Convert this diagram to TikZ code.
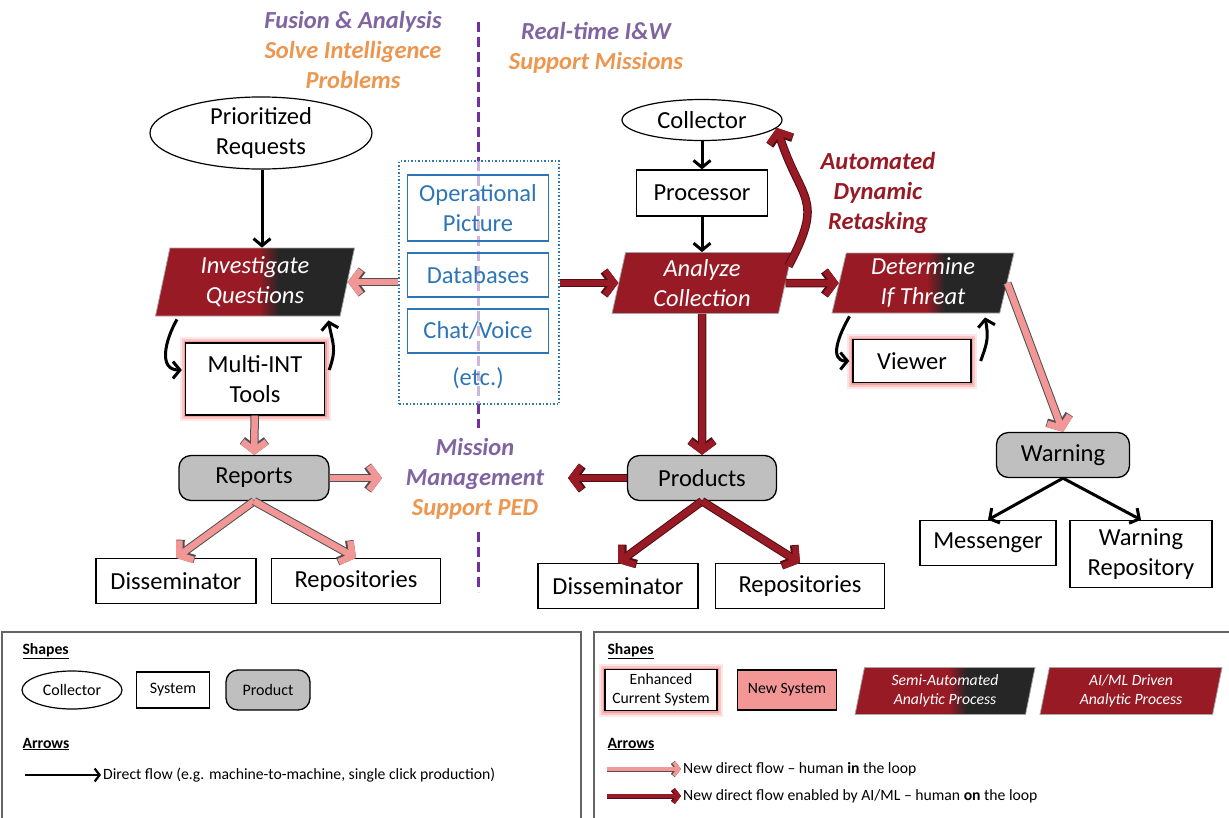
\documentclass[tikz,border=0pt]{standalone}
\usepackage{fontspec}
\setmainfont{Carlito}
\usetikzlibrary{shapes.geometric,arrows.meta,positioning}
\definecolor{aired}{RGB}{152,26,36}
\definecolor{aiedge}{RGB}{80,14,20}
\definecolor{semigray}{RGB}{38,38,38}
\definecolor{hpink}{RGB}{242,150,150}
\definecolor{edgegray}{RGB}{80,80,80}
\definecolor{prodgray}{RGB}{191,191,191}
\definecolor{infoblue}{RGB}{46,117,182}
\definecolor{tpurple}{RGB}{128,100,162}
\definecolor{torange}{RGB}{236,150,80}
\definecolor{linepurple}{RGB}{112,48,160}
\definecolor{glowpink}{RGB}{240,120,120}
\definecolor{framegray}{RGB}{100,100,100}
\pgfdeclarehorizontalshading{semiauto}{100bp}{color(0bp)=(aired); color(51bp)=(aired); color(56bp)=(semigray); color(100bp)=(semigray)}
\newcommand{\bigtxt}{\fontsize{24.5}{30}\selectfont}
\newcommand{\legtxt}{\fontsize{15.7}{19.5}\selectfont}
\newcommand{\legshape}{\fontsize{16}{20}\selectfont}

\begin{document}
\begin{tikzpicture}[x=1pt, y=1pt,
    sys_box/.style={draw, line width=1.3pt, fill=white, align=center, inner sep=0pt, font=\bigtxt},
    coll_node/.style={ellipse, draw, line width=1.2pt, fill=white, align=center, inner sep=0pt, font=\bigtxt},
    prod_box/.style={draw, line width=1.3pt, fill=prodgray, rounded corners=12pt, inner sep=0pt, font=\bigtxt},
    info_box/.style={draw=infoblue, line width=1.3pt, text=infoblue, align=center, inner sep=0pt, minimum width=141pt, font=\bigtxt},
    proc_shape/.style={trapezium, trapezium left angle=74, trapezium right angle=106, trapezium stretches body, draw=gray!70, line width=0.8pt, text=white, align=center, inner sep=0pt, font=\bigtxt\itshape},
    ai_proc/.style={proc_shape, fill=aired},
    semi_proc/.style={proc_shape, shade, shading=semiauto},
    glow_box/.style={preaction={draw=glowpink, line width=12pt, draw opacity=0.18}, preaction={draw=glowpink, line width=8pt, draw opacity=0.3}, preaction={draw=glowpink, line width=4pt, draw opacity=0.5}},
    black_flow/.style={line width=3pt, -{Straight Barb[length=7pt,width=17pt]}},
    human_flow/.style={draw=hpink, line width=6.5pt, -{Straight Barb[length=9pt,width=24pt]}, preaction={draw=edgegray, line width=8.5pt, -{Straight Barb[length=9pt,width=24pt]}}},
    ai_flow/.style={draw=aired, line width=6.5pt, -{Straight Barb[length=9pt,width=24pt]}, preaction={draw=aiedge, line width=8.5pt, -{Straight Barb[length=9pt,width=24pt]}}},
    sep_line/.style={draw=linepurple, line width=3pt, dash pattern=on 10pt off 5pt},
    title_text/.style={font=\bigtxt\bfseries\itshape, align=center}
]
\useasboundingbox (0,0) rectangle (1229,-817);
% Titres
\node[title_text] (fusion) at (353,-50) {\textcolor{tpurple}{Fusion \& Analysis}\\\textcolor{torange}{Solve Intelligence}\\\textcolor{torange}{Problems}};
\node[title_text] (realtime) at (596,-47.5) {\textcolor{tpurple}{Real-time I\&W}\\\textcolor{torange}{Support Missions}};
\node[title_text] (mission) at (475,-479) {\textcolor{tpurple}{Mission}\\\textcolor{tpurple}{Management}\\\textcolor{torange}{Support PED}};
\node[title_text, text=aired] (retask) at (878,-193) {Automated\\Dynamic\\Retasking};
% Separateur
\draw[sep_line] (478,-22) -- (478,-161);
\draw[sep_line, draw=linepurple!35] (478,-161) -- (478,-404);
\draw[sep_line] (478,-404) -- (478,-428);
\draw[sep_line] (478,-532) -- (478,-592);
% Sources communes
\node[draw=infoblue, line width=1.5pt, dash pattern=on 1.5pt off 2pt, minimum width=160pt, minimum height=243pt] (store) at (479,-282.5) {};
\node[info_box, minimum height=66pt] (oppic) at (478,-208) {Operational\\Picture};
\node[info_box, minimum height=44pt] (db) at (478,-275) {Databases};
\node[info_box, minimum height=44pt] (chat) at (478,-331) {Chat/Voice};
\node[font=\bigtxt, text=infoblue] (etc) at (478,-378) {(etc.)};
% Partie gauche : fusion
\node[coll_node, minimum width=222pt, minimum height=60pt] (req) at (261,-133) {Prioritized\\Requests};
\node[semi_proc, minimum width=199pt, minimum height=68pt] (inv) at (255,-282) {Investigate\\Questions};
\node[sys_box, glow_box, minimum width=139pt, minimum height=72pt] (tools) at (255,-379) {Multi-INT\\Tools};
\node[prod_box, minimum width=150pt, minimum height=45pt] (reports) at (254,-478) {Reports};
\node[sys_box, minimum width=160pt, minimum height=45pt] (diss1) at (176,-581) {Disseminator};
\node[sys_box, minimum width=169pt, minimum height=45pt] (repo1) at (356,-581) {Repositories};
\coordinate (mm_left) at (382,-478);
\draw[black_flow] (req.south -| 262,0) -- (inv.north -| 262,0);
\draw[human_flow] (store.west |- inv.east) -- (inv.east);
\draw[black_flow] ([shift={(22,-3)}]inv.bottom left corner) to[out=240, in=180, looseness=1.2] ([shift={(-3,9)}]tools.west);
\draw[black_flow] ([shift={(4,9)}]tools.east) to[out=70, in=-80, looseness=1.2] ([shift={(-12,-4)}]inv.bottom right corner);
\draw[human_flow] (tools) -- (reports);
\draw[human_flow] (reports) -- (mm_left);
\draw[human_flow] (reports.south) -- (diss1.north);
\draw[human_flow] (reports.south) -- (repo1.north);
% Partie droite : temps reel
\node[coll_node, minimum width=160pt, minimum height=41pt] (coll) at (702,-120) {Collector};
\node[sys_box, minimum width=131pt, minimum height=46pt] (proc) at (702,-193) {Processor};
\node[ai_proc, minimum width=180pt, minimum height=61pt] (anl) at (702,-283) {Analyze\\Collection};
\node[semi_proc, minimum width=182pt, minimum height=60pt] (det) at (923,-283) {Determine\\If Threat};
\node[sys_box, glow_box, minimum width=118pt, minimum height=43pt] (viewer) at (912,-361) {Viewer};
\node[prod_box, minimum width=133pt, minimum height=45pt] (warn) at (1063,-455) {Warning};
\node[sys_box, minimum width=136pt, minimum height=45pt] (msgr) at (988,-543) {Messenger};
\node[sys_box, minimum width=142pt, minimum height=67pt] (wrepo) at (1141,-554) {Warning\\Repository};
\node[prod_box, minimum width=149pt, minimum height=45pt] (prods) at (702,-478) {Products};
\node[sys_box, minimum width=160pt, minimum height=45pt] (diss2) at (618,-586) {Disseminator};
\node[sys_box, minimum width=169pt, minimum height=45pt] (repo2) at (800,-586) {Repositories};
\coordinate (mm_right) at (568,-478);
\draw[black_flow] (coll) -- (proc);
\draw[black_flow] (proc) -- (anl);
\draw[ai_flow] (store.east |- anl.west) -- (anl.west);
\draw[ai_flow] ([shift={(-4,-14)}]anl.top right corner) to[out=62, in=-72, looseness=1.45] (coll.-6);
\draw[ai_flow] (anl.east) -- (det.west);
\draw[black_flow] ([shift={(18,-3)}]det.bottom left corner) to[out=240, in=180, looseness=1.2] ([xshift=-3]viewer.west);
\draw[black_flow] ([shift={(9,0)}]viewer.east) to[out=70, in=-80, looseness=1.2] ([shift={(-15,-4)}]det.bottom right corner);
\draw[human_flow] (det.east) -- (warn.north);
\draw[black_flow] (warn.south) -- (msgr.north);
\draw[black_flow] (warn.south) -- (wrepo.north);
\draw[ai_flow] (anl.south) -- (prods.north);
\draw[ai_flow] (prods) -- (mm_right);
\draw[ai_flow] (prods.south) -- (diss2.north);
\draw[ai_flow] (prods.south) -- (repo2.north);
% Legende gauche
\draw[framegray, line width=1.5pt] (2,-824) -- (2,-632) -- (581,-632) -- (581,-824);
\node[anchor=west, font=\legtxt\bfseries] (lshapes1) at (19,-651) {\underline{Shapes}};
\node[coll_node, font=\legshape, minimum width=100pt, minimum height=38pt] (lcoll) at (72,-690) {Collector};
\node[sys_box, font=\legshape, minimum width=73pt, minimum height=36pt] (lsys) at (173,-690) {System};
\node[prod_box, font=\legshape, minimum width=84pt, minimum height=40pt] (lprod) at (268,-690) {Product};
\node[anchor=west, font=\legtxt\bfseries] (larrows1) at (19,-744) {\underline{Arrows}};
\node[anchor=west, font=\legtxt, inner sep=2pt] (ldirect) at (101,-775) {Direct flow (e.g. machine-to-machine, single click production)};
\coordinate (la_start) at (25,-775);
\draw[line width=2.2pt, -{Straight Barb[length=5pt,width=13pt]}] (la_start) -- (ldirect.west);
% Legende droite
\draw[framegray, line width=1.5pt] (594,-824) -- (594,-632) -- (1232,-632);
\node[anchor=west, font=\legtxt\bfseries] (lshapes2) at (604,-651) {\underline{Shapes}};
\node[sys_box, glow_box, font=\legtxt, minimum width=112pt, minimum height=41pt] (lenh) at (661,-690) {Enhanced\\Current System};
\node[sys_box, fill=hpink, font=\legtxt, minimum width=99pt, minimum height=40pt] (lnew) at (787,-690) {New System};
\node[semi_proc, font=\legtxt\itshape, minimum width=180pt, minimum height=47pt] (lsemi) at (945,-691) {Semi-Automated\\Analytic Process};
\node[ai_proc, font=\legtxt\itshape, minimum width=182pt, minimum height=47pt] (lai) at (1131,-691) {AI/ML Driven\\Analytic Process};
\node[anchor=west, font=\legtxt\bfseries] (larrows2) at (604,-744) {\underline{Arrows}};
\node[anchor=west, font=\legtxt, inner sep=2pt] (lhuman) at (681,-769) {New direct flow -- human \textbf{in} the loop};
\node[anchor=west, font=\legtxt, inner sep=2pt] (lai_txt) at (681,-796) {New direct flow enabled by AI/ML -- human \textbf{on} the loop};
\coordinate (lh_start) at (607,-769);
\coordinate (lai_start) at (607,-796);
\draw[draw=hpink, line width=3.5pt, -{Straight Barb[length=5pt,width=13pt]}, preaction={draw=edgegray, line width=5pt, -{Straight Barb[length=5pt,width=13pt]}}] (lh_start) -- (lhuman.west);
\draw[draw=aired, line width=3.5pt, -{Straight Barb[length=5pt,width=13pt]}, preaction={draw=aiedge, line width=5pt, -{Straight Barb[length=5pt,width=13pt]}}] (lai_start) -- (lai_txt.west);
\end{tikzpicture}
\end{document}
